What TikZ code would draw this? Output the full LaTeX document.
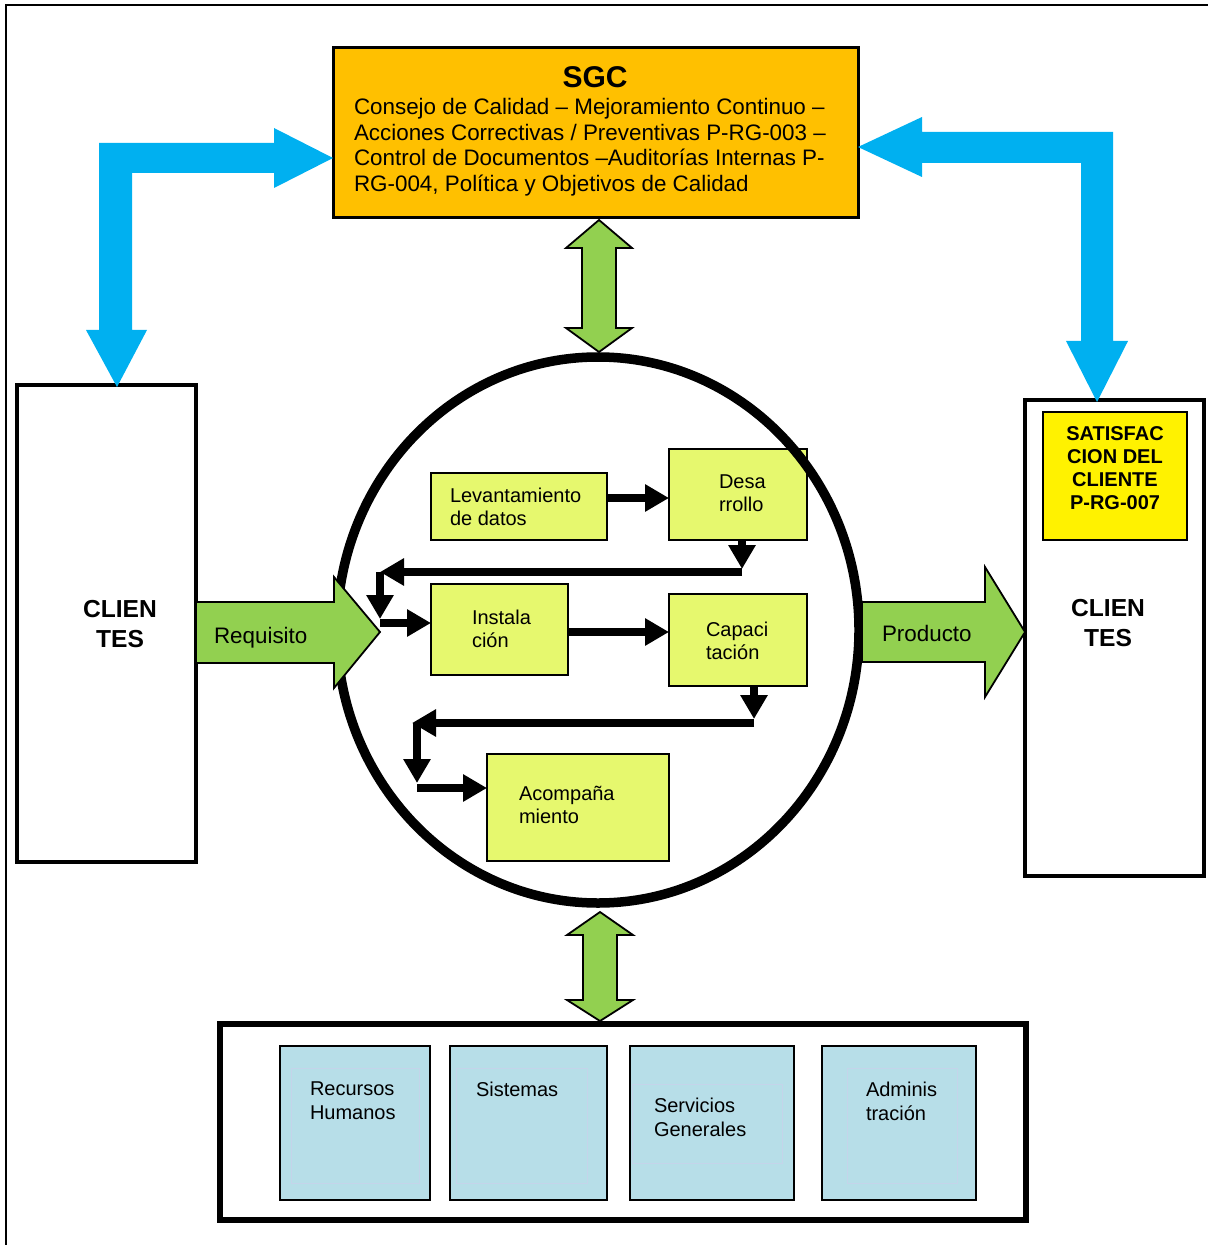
\documentclass[tikz,border=0pt]{standalone}
\usepackage{fontspec}
\setmainfont{Liberation Sans}
\usetikzlibrary{arrows.meta,shapes.geometric}
\definecolor{sgcorange}{HTML}{FFC000}
\definecolor{skyblue}{HTML}{00B0F0}
\definecolor{leafgreen}{HTML}{92D050}
\definecolor{lime}{RGB}{230,248,110}
\definecolor{paleblue}{RGB}{183,222,232}
\definecolor{faintline}{RGB}{196,212,234}

\begin{document}
\begin{tikzpicture}[x=0.5pt,y=-0.5pt,
  box/.style={draw, rectangle, inner sep=0pt, outer sep=0pt},
  flowbox/.style={box, fill=lime, line width=0.8pt},
  deptbox/.style={box, fill=paleblue, line width=0.9pt, minimum width=#1, minimum height=77pt},
  txt/.style={inner sep=0pt, outer sep=0pt, align=left, anchor=west, font=\fontsize{10}{11.5}\selectfont},
  heavy/.style={inner sep=0pt, outer sep=0pt, align=center, font=\bfseries\fontsize{12.3}{15}\selectfont},
  flow/.style={line width=4pt, -{Triangle[length=12pt,width=13pt]}},
  bluearrow/.style={fill=skyblue},
  greenarrow/.style={fill=leafgreen, draw=black, line width=0.9pt, line join=miter},
]
\useasboundingbox (0,0) rectangle (1208,1245);

% page frame
\draw[line width=1pt] (6,1245) -- (6,5) -- (1208,5);

% main boxes
\node[box, fill=sgcorange, line width=1.5pt, minimum width=262.5pt, minimum height=85pt] (sgc) at (595.5,133) {};
\node[box, fill=white, line width=2pt, minimum width=89.5pt, minimum height=238.5pt] (cl) at (106.5,623.5) {};
\node[box, fill=white, line width=2pt, minimum width=89.5pt, minimum height=238pt] (cr) at (1114.5,638) {};
\node[box, fill=yellow, line width=0.75pt, minimum width=72pt, minimum height=64pt] (sat) at (1115,476) {};

% bent feedback arrows between the clients and the SGC
\fill[bluearrow] ([yshift=-12.5pt]sgc.west) -- ++(-59,-30) -- ++(0,15) -- ++(-175,0)
  -- ++(0,187) -- ++(-13,0) -- ++(31,57) -- ++(30,-57) -- ++(-15,0) -- ++(0,-157)
  -- ++(142,0) -- ++(0,15) -- cycle;
\fill[bluearrow] ([yshift=-7pt]sgc.east) -- ++(64,-30) -- ++(0,15) -- ++(191,0)
  -- ++(0,209) -- ++(15,0) -- ++(-31,61) -- ++(-31,-61) -- ++(15,0) -- ++(0,-178)
  -- ++(-159,0) -- ++(0,14) -- cycle;

% process steps
\node[flowbox, minimum width=88pt, minimum height=33.5pt] (lev) at (519,506.5) {};
\node[flowbox, minimum width=69pt, minimum height=45.5pt] (des) at (738,494.5) {};
\node[flowbox, minimum width=68.5pt, minimum height=45.5pt] (ins) at (499.5,629.5) {};
\node[flowbox, minimum width=69pt, minimum height=46pt] (cap) at (738,640) {};
\node[flowbox, minimum width=91pt, minimum height=53.5pt] (aco) at (578,807.5) {};

% process ring
\node[draw, ellipse, line width=4.75pt, inner sep=0pt, outer sep=0pt,
      minimum width=261pt, minimum height=273pt] (proc) at (598,630) {};

% two-way links to the SGC and to the support areas
\draw[greenarrow] ([xshift=1.75pt,yshift=-1pt]sgc.south) -- ++(33,28) -- ++(-16,0) -- ++(0,80)
  -- ++(16,0) -- ++(-33,24) -- ++(-33,-24) -- ++(16,0) -- ++(0,-80) -- ++(-16,0) -- cycle;
\draw[greenarrow] ([xshift=1pt,yshift=-4.5pt]proc.south) -- ++(33,23) -- ++(-16,0) -- ++(0,65)
  -- ++(16,0) -- ++(-33,21) -- ++(-33,-21) -- ++(16,0) -- ++(0,-65) -- ++(-16,0) -- cycle;

% input and output block arrows
\draw[greenarrow] ([yshift=10.75pt]cl.east) -- ++(138,0) -- ++(0,-25) -- ++(46,55)
  -- ++(-46,56) -- ++(0,-25) -- ++(-138,0) -- cycle;
\draw[greenarrow] ([xshift=1.5pt,yshift=14pt]proc.east) -- ++(123,0) -- ++(0,-35) -- ++(40,65)
  -- ++(-40,65) -- ++(0,-35) -- ++(-123,0) -- cycle;

% process flow
\coordinate (a1) at ([yshift=4.25pt]lev.east);
\coordinate (a2) at ([yshift=-1.25pt]ins.east);
\coordinate (d1) at (742,572);
\coordinate (d2) at (380,572);
\coordinate (d3) at (380,623);
\coordinate (c1) at (754,723);
\coordinate (c2) at (412,723);
\coordinate (c3) at (417,788);
\draw[flow] (a1) -- (a1 -| des.west);
\draw[flow, shorten >=1.5pt] ([xshift=2pt]des.south) -- (d1);
\draw[flow] (d1) -- (d2);
\draw[flow, shorten >=2pt] (d2) -- (d3);
\draw[flow] (d3) -- (d3 -| ins.west);
\draw[flow] (a2) -- (a2 -| cap.west);
\draw[flow, shorten >=2pt] ([xshift=8pt]cap.south) -- (c1);
\draw[flow] (c1) -- (c2);
\draw[flow, shorten >=2.5pt] (c2 -| c3) -- (c3);
\draw[flow] (c3) -- (c3 -| aco.west);

% support areas
\node[box, fill=white, line width=3pt, minimum width=403pt, minimum height=98pt] (res) at (623,1122) {};
\node[deptbox=75pt] (rh) at (355,1123) {};
\node[deptbox=78.5pt] (sis) at (528.5,1123) {};
\node[deptbox=82pt] (sg) at (712,1123) {};
\node[deptbox=77pt] (adm) at (899,1123) {};
\draw[faintline, line width=0.5pt] (291,1068) rectangle (419,1183);
\draw[faintline, line width=0.5pt] (456,1068) rectangle (587,1183);
\draw[faintline, line width=0.5pt] (632,1084) rectangle (782,1163);
\draw[faintline, line width=0.5pt] (847,1068) rectangle (957,1183);

% texts
\node[inner sep=0pt, font=\bfseries\fontsize{15}{18}\selectfont] (sgct) at (595,77) {SGC};
\node[txt, font=\fontsize{11.2}{12.75}\selectfont] (sgcb) at (354,147)
  {Consejo de Calidad – Mejoramiento Continuo –\\Acciones Correctivas / Preventivas P-RG-003 –\\Control de Documentos –Auditorías Internas P-\\RG-004, Política y Objetivos de Calidad};
\node[heavy] (clt) at (120,624) {CLIEN\\TES};
\node[heavy] (crt) at (1108,623) {CLIEN\\TES};
\node[heavy, font=\bfseries\fontsize{10}{11.5}\selectfont] (satt) at (1115,468) {SATISFAC\\CION DEL\\CLIENTE\\P-RG-007};
\node[txt] (levt) at (450,506.5) {Levantamiento\\de datos};
\node[txt] (dest) at (719,493) {Desa\\rrollo};
\node[txt] (inst) at (472,628.5) {Instala\\ción};
\node[txt] (capt) at (706,641) {Capaci\\tación};
\node[txt] (acot) at (519,804.5) {Acompaña\\miento};
\node[txt, font=\fontsize{11.2}{13}\selectfont] (reqt) at (214,638) {Requisito};
\node[txt, font=\fontsize{11.2}{13}\selectfont] (prot) at (882,633) {Producto};
\node[txt, font=\fontsize{10}{12}\selectfont] (rht) at (310,1101) {Recursos\\Humanos};
\node[txt] (sist) at (476,1089) {Sistemas};
\node[txt, font=\fontsize{10}{12}\selectfont] (sgt) at (654,1117.5) {Servicios\\Generales};
\node[txt, font=\fontsize{10}{12}\selectfont] (admt) at (866,1101) {Adminis\\tración};
\end{tikzpicture}
\end{document}
